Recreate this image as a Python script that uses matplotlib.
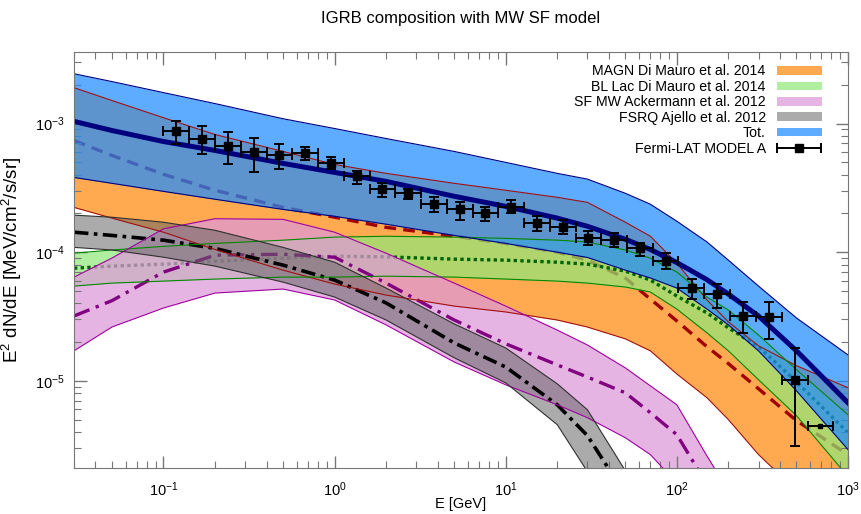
import matplotlib
matplotlib.use("Agg")
import matplotlib.pyplot as plt
from matplotlib.patches import Patch
from matplotlib.legend_handler import HandlerErrorbar

plt.rcParams['font.family'] = ['Liberation Sans', 'DejaVu Sans']
plt.rcParams['mathtext.default'] = 'regular'

# energy grid used for the model bands [GeV]
E = [0.03, 0.05, 0.1, 0.2, 0.5, 1, 2, 5, 10, 20, 30, 50, 70, 100, 150, 200, 300, 500, 1000]

tot_hi = [2.44e-3, 2.12e-3, 1.74e-3, 1.43e-3, 1.09e-3, 9.15e-4, 7.65e-4, 6.07e-4, 4.99e-4, 4.10e-4, 3.70e-4, 2.87e-4, 2.36e-4, 1.74e-4, 1.20e-4, 8.67e-5, 5.45e-5, 3.08e-5, 1.59e-5]
tot_mid = [1.04e-3, 8.83e-4, 7.25e-4, 6.18e-4, 4.90e-4, 4.17e-4, 3.55e-4, 2.72e-4, 2.27e-4, 1.84e-4, 1.59e-4, 1.26e-4, 1.05e-4, 8.3e-5, 6.11e-5, 4.72e-5, 3.19e-5, 1.71e-5, 6.75e-6]
tot_lo = [3.81e-4, 3.43e-4, 2.97e-4, 2.58e-4, 2.15e-4, 1.90e-4, 1.65e-4, 1.35e-4, 1.17e-4, 1.0e-4, 9.1e-5, 7.25e-5, 6.3e-5, 5.26e-5, 3.61e-5, 2.72e-5, 1.71e-5, 8.36e-6, 2.92e-6]

magn_hi = [1.90e-3, 1.51e-3, 1.11e-3, 8.22e-4, 6.07e-4, 4.81e-4, 4.10e-4, 3.43e-4, 3.03e-4, 2.67e-4, 2.44e-4, 1.71e-4, 1.33e-4, 8.22e-5, 4.25e-5, 2.87e-5, 1.87e-5, 1.31e-5, 8.83e-6]
magn_mid = [7.38e-4, 5.65e-4, 4.03e-4, 3.03e-4, 2.23e-4, 1.87e-4, 1.56e-4, 1.33e-4, 1.17e-4, 1.0e-4, 8.67e-5, 6.29e-5, 4.32e-5, 2.92e-5, 1.84e-5, 1.36e-5, 8.67e-6, 4.90e-6, 2.67e-6]
magn_lo = [2.23e-4, 1.84e-4, 1.43e-4, 1.05e-4, 7.25e-5, 5.65e-5, 4.64e-5, 3.81e-5, 3.43e-5, 2.97e-5, 2.62e-5, 2.12e-5, 1.71e-5, 1.13e-5, 7.38e-6, 4.99e-6, 2.67e-6, 1.4e-6, 6e-7]

bll_hi = [9.82e-5, 1.04e-4, 1.11e-4, 1.17e-4, 1.24e-4, 1.31e-4, 1.33e-4, 1.31e-4, 1.28e-4, 1.24e-4, 1.20e-4, 1.04e-4, 8.98e-5, 7.0e-5, 4.48e-5, 3.55e-5, 2.27e-5, 1.22e-5, 5.45e-6]
bll_mid = [7.51e-5, 7.79e-5, 8.07e-5, 8.51e-5, 8.98e-5, 9.31e-5, 9.2e-5, 8.83e-5, 8.67e-5, 8.36e-5, 8.07e-5, 7.13e-5, 6.07e-5, 4.56e-5, 3.37e-5, 2.58e-5, 1.84e-5, 9.82e-6, 3.95e-6]
bll_lo = [5.45e-5, 5.75e-5, 5.96e-5, 6.18e-5, 6.40e-5, 6.4e-5, 6.51e-5, 6.4e-5, 6.18e-5, 5.96e-5, 5.75e-5, 5.36e-5, 4.9e-5, 3.61e-5, 2.36e-5, 1.71e-5, 1.02e-5, 5.36e-6, 1.8e-6]

sf_hi = [6.40e-5, 9.0e-5, 1.52e-4, 1.82e-4, 1.80e-4, 1.43e-4, 9.82e-5, 5.75e-5, 3.81e-5, 2.48e-5, 1.90e-5, 1.26e-5, 9.14e-6, 6.51e-6, 2.6e-6, 1.4e-6, 6e-7, 2e-7, 5e-8]
sf_mid = [3.19e-5, 4.2e-5, 7.0e-5, 9.48e-5, 9.64e-5, 9.14e-5, 5.75e-5, 2.97e-5, 1.94e-5, 1.33e-5, 1.07e-5, 8.07e-6, 5.65e-6, 3.81e-6, 1.56e-6, 1.0e-6, 4e-7, 1.2e-7, 3e-8]
sf_lo = [1.71e-5, 2.62e-5, 3.68e-5, 4.81e-5, 5.17e-5, 4.25e-5, 2.72e-5, 1.40e-5, 9.31e-6, 6.51e-6, 5.17e-6, 3.61e-6, 2.67e-6, 1.6e-6, 6e-7, 3e-7, 1e-7, 3e-8, 5e-9]

fsrq_hi = [1.94e-4, 1.87e-4, 1.71e-4, 1.48e-4, 1.09e-4, 8.36e-5, 5.26e-5, 2.77e-5, 1.80e-5, 9.48e-6, 5.96e-6, 2.0e-6, 8e-7, 3e-7, 1e-7, 3e-8, 8e-9, 2e-9, 3e-10]
fsrq_mid = [1.43e-4, 1.35e-4, 1.24e-4, 1.07e-4, 7.93e-5, 6.07e-5, 4.03e-5, 1.97e-5, 1.28e-5, 6.51e-6, 3.75e-6, 1.3e-6, 5e-7, 1.5e-7, 6e-8, 1.5e-8, 4e-9, 1e-9, 1.5e-10]
fsrq_lo = [1.09e-4, 1.04e-4, 9.14e-5, 7.79e-5, 5.85e-5, 4.48e-5, 2.97e-5, 1.51e-5, 9.64e-6, 4.56e-6, 1.97e-6, 7e-7, 3e-7, 8e-8, 3e-8, 8e-9, 2e-9, 5e-10, 8e-11]

# Fermi-LAT IGRB model A
e_data = [0.119, 0.168, 0.238, 0.336, 0.476, 0.673, 0.951, 1.35, 1.90, 2.69, 3.81, 5.38, 7.61,
          10.8, 15.2, 21.5, 30.4, 43.1, 60.9, 86.1, 122, 172, 244, 345, 487, 689]
e_edges = [0.1, 0.141, 0.2, 0.283, 0.4, 0.566, 0.8, 1.13, 1.6, 2.26, 3.2, 4.53, 6.4, 9.05,
           12.8, 18.1, 25.6, 36.2, 51.2, 72.4, 102, 145, 205, 290, 410, 580, 820]
flux = [8.71e-4, 7.61e-4, 6.75e-4, 5.99e-4, 5.65e-4, 5.88e-4, 4.96e-4, 3.88e-4, 3.12e-4, 2.88e-4,
        2.39e-4, 2.15e-4, 2.0e-4, 2.24e-4, 1.69e-4, 1.57e-4, 1.30e-4, 1.24e-4, 1.07e-4, 8.57e-5,
        5.23e-5, 4.70e-5, 3.19e-5, 3.12e-5, 1.02e-5, 4.42e-6]
flux_hi = [1.04e-3, 9.53e-4, 8.56e-4, 7.75e-4, 6.96e-4, 6.63e-4, 5.48e-4, 4.27e-4, 3.44e-4, 3.12e-4,
           2.68e-4, 2.45e-4, 2.24e-4, 2.53e-4, 1.90e-4, 1.77e-4, 1.46e-4, 1.40e-4, 1.18e-4, 9.77e-5,
           6.14e-5, 5.65e-5, 4.12e-5, 4.12e-5, 1.79e-5, 4.42e-6]
flux_lo = [6.96e-4, 5.75e-4, 4.81e-4, 4.19e-4, 4.40e-4, 5.23e-4, 4.45e-4, 3.41e-4, 2.68e-4, 2.61e-4,
           2.05e-4, 1.79e-4, 1.74e-4, 2.0e-4, 1.46e-4, 1.38e-4, 1.13e-4, 1.09e-4, 9.31e-5, 7.34e-5,
           4.30e-5, 3.70e-5, 2.34e-5, 2.11e-5, 3.10e-6, 4.42e-6]

fig = plt.figure(figsize=(8.62, 5.14), dpi=100)
ax = fig.add_axes([74/862, 46/514, 774/862, 416/514])

c_orange = (1.0, 0.62, 0.22)
c_green = (0.56, 0.91, 0.47)
c_pink = (0.87, 0.60, 0.85)
c_grey = (0.40, 0.40, 0.40)
c_blue = (0.12, 0.55, 1.0)

# component bands, central lines sit under the later fills
ax.fill_between(E, magn_lo, magn_hi, color=c_orange, alpha=0.88, lw=0, zorder=1)
ax.plot(E, magn_mid, color='#a00000', lw=2.4, dashes=(3.5, 2.2), zorder=1.1)
ax.fill_between(E, bll_lo, bll_hi, color=c_green, alpha=0.7, lw=0, zorder=1.2)
ax.plot(E, bll_mid, color='#006400', lw=2.4, dashes=(1, 1), zorder=1.3)
ax.fill_between(E, sf_lo, sf_hi, color=c_pink, alpha=0.73, lw=0, zorder=1.4)
ax.plot(E, sf_mid, color='#800080', lw=2.4, dashes=(5, 2, 1, 2), zorder=1.5)
ax.fill_between(E, fsrq_lo, fsrq_hi, color=c_grey, alpha=0.55, lw=0, zorder=1.6)
ax.plot(E, fsrq_mid, color='black', lw=2.6, dashes=(4, 1.5, 1, 1.5), zorder=1.7)
ax.fill_between(E, tot_lo, tot_hi, color=c_blue, alpha=0.72, lw=0, zorder=1.8)

# band borders
for lo, hi, col in [(magn_lo, magn_hi, '#a01010'), (bll_lo, bll_hi, '#008800'),
                    (sf_lo, sf_hi, '#a000a0'), (fsrq_lo, fsrq_hi, '#303030'),
                    (tot_lo, tot_hi, '#000080')]:
    ax.plot(E, lo, color=col, lw=0.8, zorder=2)
    ax.plot(E, hi, color=col, lw=0.8, zorder=2)
ax.plot(E, tot_mid, color='#00007f', lw=3.6, zorder=2.5)

# data
xlo = [e - a for e, a in zip(e_data, e_edges[:-1])]
xhi = [b - e for e, b in zip(e_data, e_edges[1:])]
ylo = [f - l for f, l in zip(flux, flux_lo)]
yhi = [h - f for f, h in zip(flux, flux_hi)]
n = len(e_data) - 1
data = ax.errorbar(e_data[:n], flux[:n], xerr=[xlo[:n], xhi[:n]], yerr=[ylo[:n], yhi[:n]],
                   fmt='s', color='black', ms=6, lw=1.4, capsize=3.5, capthick=1.4, zorder=3)
ax.errorbar(e_data[n:], flux[n:], xerr=[xlo[n:], xhi[n:]], fmt='s', color='black', ms=2.5,
            lw=1.4, capsize=3.5, capthick=1.4, zorder=3)

ax.set_xscale('log')
ax.set_yscale('log')
ax.set_xlim(0.03, 1000)
ax.set_ylim(2.1e-6, 3.6e-3)

for s in ax.spines.values():
    s.set_color('#777777')
ax.tick_params(which='both', direction='in', top=True, right=True, colors='#777777',
               labelcolor='black', labelsize=10.5)
ax.tick_params(which='major', length=9, width=1)
ax.tick_params(which='minor', length=5, width=0.8)
ax.tick_params(axis='x', which='major', pad=9)
ax.tick_params(axis='y', which='major', pad=7)

ax.set_xlabel('E [GeV]', fontsize=10.5)
ax.set_ylabel('E$^2$ dN/dE [MeV/cm$^2$/s/sr]', fontsize=13.5)
ax.xaxis.set_label_coords(0.5, -0.07)
ax.yaxis.set_label_coords(-0.064, 0.5)
fig.text(461/862, 1 - 18/514, 'IGRB composition with MW SF model', ha='center', va='center', fontsize=12)

handles = [Patch(facecolor=c_orange, alpha=0.88),
           Patch(facecolor=c_green, alpha=0.7),
           Patch(facecolor=c_pink, alpha=0.73),
           Patch(facecolor=c_grey, alpha=0.55),
           Patch(facecolor=c_blue, alpha=0.72),
           data]
labels = ['MAGN Di Mauro et al. 2014', 'BL Lac Di Mauro et al. 2014', 'SF MW Ackermann et al. 2012',
          'FSRQ Ajello et al. 2012', 'Tot.', 'Fermi-LAT MODEL A']
leg = ax.legend(handles, labels, loc='upper right', bbox_to_anchor=(0.966, 0.97), frameon=False,
                markerfirst=False, fontsize=10.2, handlelength=3.15, handleheight=0.55,
                labelspacing=0.1, handletextpad=0.8, borderpad=0, borderaxespad=0,
                handler_map={data: HandlerErrorbar(xerr_size=1.55, yerr_size=0.0)})
leg.set_zorder(5)

fig.savefig('out.png', dpi=100)
